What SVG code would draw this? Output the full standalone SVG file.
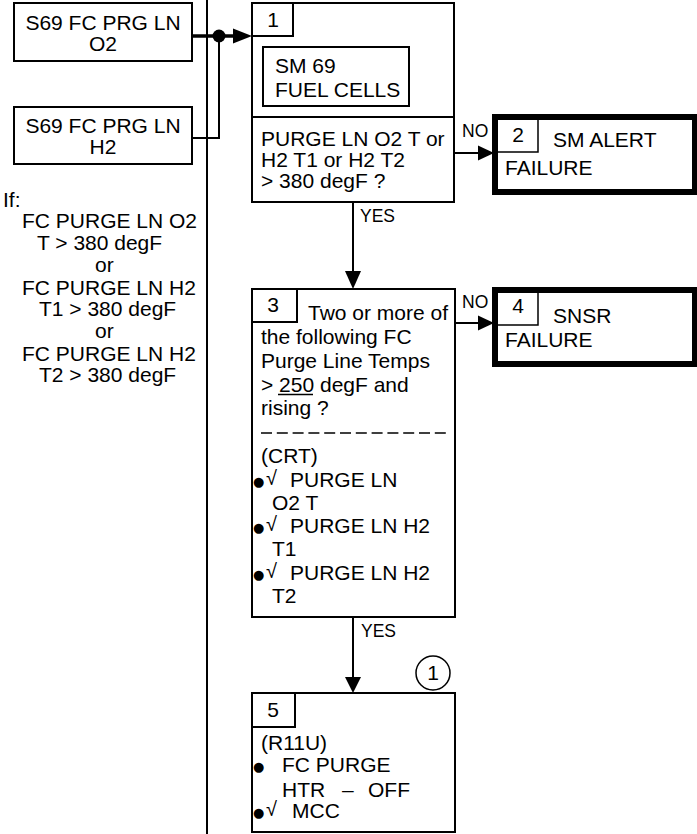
<svg xmlns="http://www.w3.org/2000/svg" width="697" height="834" viewBox="0 0 697 834">
<style>
text{font-family:"Liberation Sans",Arial,sans-serif;fill:#000}
.t{font-size:21px}
.s{font-size:17.5px}
.c{text-anchor:middle}
.b{fill:#fff;stroke:#000;stroke-width:2}
.bk{fill:#fff;stroke:#000;stroke-width:6}
.ln{fill:none;stroke:#000;stroke-width:2}
.bul{font-family:"DejaVu Sans",sans-serif;font-size:13px}
.chk{font-family:"Liberation Sans",sans-serif;font-size:20px}
</style>
<rect width="697" height="834" fill="#fff"/>
<g id="connectors">
<line class="ln" x1="207" y1="0" x2="207" y2="834"/>
<line x1="192" y1="36" x2="234" y2="36" stroke="#000" stroke-width="3.5"/>
<circle cx="219" cy="36" r="6.5" fill="#000"/>
<polygon points="233,28.5 252,36 233,43.5" fill="#000"/>
<polyline class="ln" points="192,138 219,138 219,36"/>
<line class="ln" x1="353" y1="202" x2="353" y2="272"/>
<polygon points="345,271 361,271 353,289" fill="#000"/>
<text class="s" x="360" y="222">YES</text>
<line class="ln" x1="454" y1="153" x2="480" y2="153"/>
<polygon points="478,145.5 478,160.5 494,153" fill="#000"/>
<text class="s" x="462" y="137">NO</text>
<line class="ln" x1="455" y1="323" x2="480" y2="323"/>
<polygon points="478,315.5 478,330.5 494,323" fill="#000"/>
<text class="s" x="462" y="308">NO</text>
<line class="ln" x1="353" y1="617" x2="353" y2="678"/>
<polygon points="345,677 361,677 353,693" fill="#000"/>
<text class="s" x="361" y="637">YES</text>
</g>
<g id="s69-o2">
<rect class="b" x="14" y="3" width="178" height="58"/>
<text class="t c" x="103" y="30">S69 FC PRG LN</text>
<text class="t c" x="103" y="51">O2</text>
</g>
<g id="s69-h2">
<rect class="b" x="14" y="107" width="178" height="57"/>
<text class="t c" x="103" y="132.5">S69 FC PRG LN</text>
<text class="t c" x="103" y="154">H2</text>
</g>
<g id="condition">
<text class="t" x="3" y="207">If:</text>
<text class="t" x="22" y="228">FC PURGE LN O2</text>
<text class="t" x="37" y="250">T &gt; 380 degF</text>
<text class="t" x="95" y="272">or</text>
<text class="t" x="22" y="295">FC PURGE LN H2</text>
<text class="t" x="39" y="316">T1 &gt; 380 degF</text>
<text class="t" x="95" y="338">or</text>
<text class="t" x="22" y="361">FC PURGE LN H2</text>
<text class="t" x="39" y="382">T2 &gt; 380 degF</text>
</g>
<g id="box1">
<rect class="b" x="252" y="3" width="202" height="199"/>
<line class="ln" x1="252" y1="117" x2="454" y2="117"/>
<polyline class="ln" points="252,36 293,36 293,3"/>
<text class="t c" x="273" y="27">1</text>
<rect class="b" x="263" y="47" width="146" height="59"/>
<text class="t" x="275" y="73">SM 69</text>
<text class="t" x="275" y="97">FUEL CELLS</text>
<text class="t" x="261" y="146">PURGE LN O2 T or</text>
<text class="t" x="261" y="167">H2 T1 or H2 T2</text>
<text class="t" x="261" y="188">&gt; 380 degF ?</text>
</g>
<g id="box2">
<rect class="bk" x="495" y="117" width="200" height="75"/>
<polyline points="495,152 538,152 538,117" fill="none" stroke="#000" stroke-width="1.5"/>
<text class="t c" x="518" y="142">2</text>
<text class="t" x="553" y="147">SM ALERT</text>
<text class="t" x="505" y="175">FAILURE</text>
</g>
<g id="box3">
<rect class="b" x="252" y="289" width="203" height="328"/>
<polyline class="ln" points="252,322 297,322 297,289"/>
<text class="t c" x="273" y="312">3</text>
<text class="t" x="308" y="320">Two or more of</text>
<text class="t" x="261" y="344">the following FC</text>
<text class="t" x="261" y="368">Purge Line Temps</text>
<text class="t" x="261" y="392">&gt; 250 degF and</text>
<line x1="278" y1="394.5" x2="313" y2="394.5" stroke="#000" stroke-width="1.5"/>
<text class="t" x="261" y="415">rising ?</text>
<line x1="261" y1="433" x2="446" y2="433" stroke="#000" stroke-width="1.5" stroke-dasharray="11,4.8"/>
<text class="t" x="261" y="463">(CRT)</text>
<text class="bul" x="253" y="486">●</text><text class="chk" x="266" y="485">√</text><text class="t" x="290" y="487">PURGE LN</text>
<text class="t" x="272" y="510">O2 T</text>
<text class="bul" x="253" y="532">●</text><text class="chk" x="266" y="531">√</text><text class="t" x="290" y="533">PURGE LN H2</text>
<text class="t" x="272" y="556">T1</text>
<text class="bul" x="253" y="579">●</text><text class="chk" x="266" y="578">√</text><text class="t" x="290" y="580">PURGE LN H2</text>
<text class="t" x="272" y="603">T2</text>
</g>
<g id="box4">
<rect class="bk" x="495" y="290" width="200" height="74"/>
<polyline points="495,325 538,325 538,290" fill="none" stroke="#000" stroke-width="1.5"/>
<text class="t c" x="518" y="313">4</text>
<text class="t" x="553" y="323">SNSR</text>
<text class="t" x="505" y="347">FAILURE</text>
</g>
<g id="circle1">
<circle cx="433" cy="673" r="17" fill="#fff" stroke="#000" stroke-width="1.5"/>
<text class="t c" x="433" y="680">1</text>
</g>
<g id="box5">
<rect class="b" x="252" y="693" width="203" height="139"/>
<polyline class="ln" points="252,727 295,727 295,693"/>
<text class="t c" x="273" y="717">5</text>
<text class="t" x="261" y="750">(R11U)</text>
<text class="bul" x="253" y="771">●</text><text class="t" x="282" y="772">FC PURGE</text>
<text class="t" x="282" y="797">HTR</text><text class="t" x="342" y="797">–</text><text class="t" x="368" y="797">OFF</text>
<text class="bul" x="253" y="817">●</text><text class="chk" x="266" y="816">√</text><text class="t" x="292" y="818">MCC</text>
</g>
</svg>
